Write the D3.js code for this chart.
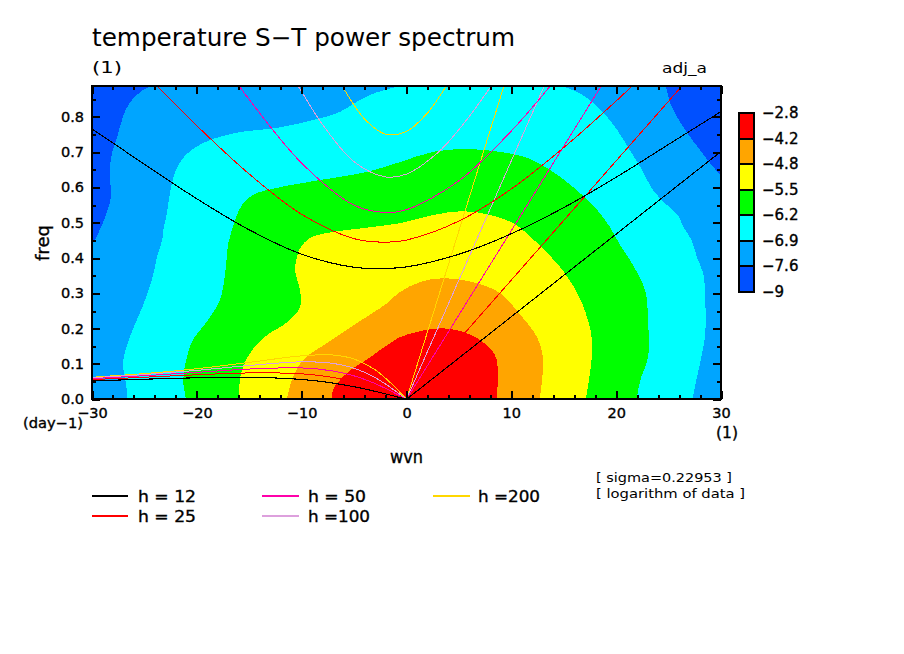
<!DOCTYPE html>
<html><head><meta charset="utf-8">
<script src="https://cdn.jsdelivr.net/npm/d3@7/dist/d3.min.js"></script>
<style>
html,body{margin:0;padding:0;background:#fff}
svg{display:block}
text{font-family:"DejaVu Sans",sans-serif;fill:#000}
.tk text,.b{stroke:#000;stroke-width:.35px}
</style></head><body><svg id="c" width="904" height="654"></svg>
<script>
const xTickLabels=[-30,-20,-10,0,10,20,30];
const xMinorTicks=[-28,-26,-24,-22,-18,-16,-14,-12,-8,-6,-4,-2,2,4,6,8,12,14,16,18,22,24,26,28];
const yTickLabels=[0,0.1,0.2,0.3,0.4,0.5,0.6,0.7,0.8];
const yMinorTicks=[0.05,0.15,0.25,0.35,0.45,0.55,0.65,0.75,0.85];
const levelLabels=["−2.8","−4.2","−4.8","−5.5","−6.2","−6.9","−7.6","−9"];
const levelColors=["#ff0000","#ffa500","#ffff00","#00ff00","#00ffff","#00a5ff","#0050ff"];

const plotDomain=[[-31,-.01],[-31,.9],[31,.9],[31,-.01]];
const bandLight=[[-31,-.01],[-31,.41],[-30,.437],[-29.4,.471],[-28.6,.528],[-28.2,.573],[-28.3,.641],[-28.1,.698],[-27.6,.743],[-27.05,.8],[-26.4,.84],[-25.1,.877],[-24,.892],[-23,.92],[24,.92],[24.67,.892],[25.15,.84],[25.8,.8],[26.77,.755],[28,.706],[29.25,.658],[30,.635],[31,.6],[31,-.01]];
const bandCyan=[[-26.57,-.01],[-26.76,.045],[-27.05,.102],[-26.4,.176],[-25.2,.261],[-24.3,.338],[-23.7,.414],[-23.3,.451],[-23.2,.479],[-22.85,.528],[-22.57,.584],[-22.1,.641],[-21.3,.684],[-19.4,.726],[-16.2,.755],[-12.35,.769],[-8.9,.791],[-6.35,.814],[-4.9,.84],[-3,.868],[-.14,.892],[2,.92],[12,.92],[14.36,.892],[16.27,.871],[17.7,.843],[19.13,.8],[20.1,.763],[21.3,.706],[22.47,.65],[23.5,.593],[24.86,.55],[25.9,.522],[26.4,.488],[27.2,.451],[27.7,.403],[28.3,.357],[28.5,.281],[28.5,.187],[28.2,.13],[27.5,.034],[27.24,-.01]];
const bandGreen=[[-20.95,-.01],[-21.3,.054],[-20.95,.119],[-20.4,.167],[-18.95,.224],[-17.8,.281],[-17.3,.357],[-17.03,.437],[-16.84,.46],[-16.36,.508],[-15.7,.55],[-14.65,.579],[-12.35,.599],[-8.25,.621],[-3.77,.644],[-.62,.672],[2.53,.701],[5.77,.709],[8.92,.701],[11.5,.684],[13.7,.65],[15.9,.601],[18.2,.536],[19.4,.488],[20.37,.437],[21.6,.38],[22.76,.309],[23.04,.224],[23.04,.119],[22.3,.054],[21.9,-.01]];
const bandYellow=[[-15.98,-.01],[-15.9,.054],[-15.6,.091],[-14.74,.139],[-13.3,.182],[-11.4,.218],[-10.16,.261],[-10.16,.309],[-10.64,.366],[-10.45,.403],[-10.16,.428],[-9.2,.457],[-7.6,.471],[-4.15,.485],[-.62,.499],[2.53,.522],[5.4,.533],[7.97,.522],[10.16,.499],[12.45,.443],[15.12,.357],[16.75,.272],[17.7,.167],[17.5,.074],[17.03,-.01]];
const bandOrange=[[-11.5,-.01],[-10.93,.054],[-9.88,.111],[-7.6,.159],[-4.72,.216],[-1.86,.272],[-.62,.304],[1.29,.332],[3.48,.343],[6.35,.332],[8.92,.301],[10.64,.247],[12.45,.176],[13.02,.119],[12.93,.054],[12.64,-.01]];
const bandRed=[[-7.01,-.01],[-7.01,.026],[-5.68,.074],[-3.48,.119],[-1.57,.159],[-.62,.176],[1.29,.193],[3.48,.201],[5.77,.187],[7.3,.162],[8.44,.125],[8.73,.074],[8.54,-.01]];
const bands=[[plotDomain,6],[bandLight,5],[bandCyan,4],[bandGreen,3],[bandYellow,2],[bandOrange,1],[bandRed,0]];

const lowWvn=[-30,-25,-20,-15,-10,-7,-5,-3,-2,-1,0];
const low12=[.052,.0569,.061,.0624,.0562,.0459,.0356,.0226,.0153,.0078,0];
const low25=[.0558,.0625,.0694,.0747,.0722,.0619,.0494,.0322,.022,.0112,0];
const low50=[.0587,.0668,.0763,.0857,.0888,.0802,.0664,.0446,.0308,.0158,0];
const low100=[.0609,.0702,.082,.0958,.1061,.1017,.088,.0614,.0431,.0223,0];
const low200=[.0625,.0729,.0866,.1045,.1231,.1254,.114,.0836,.0597,.0314,0];

const upper12=[[-30,.766],[-25,.666],[-20,.568],[-15,.48],[-10,.411],[-5,.374],[-2,.371],[0,.375],[5,.411],[10,.469],[15,.543],[20,.629],[25,.722],[30,.815]];
const upper25=[[-24,.894],[-20,.775],[-15,.638],[-10,.524],[-5,.455],[-2,.445],[0,.451],[5,.505],[10,.596],[15,.713],[20,.845],[22,.901]];
const upper50=[[-16,.889],[-15,.849],[-10,.669],[-5,.55],[-2,.529],[0,.537],[5,.619],[10,.76],[14,.898]];
const upper100=[[-11,.92],[-10,.871],[-8,.778],[-5,.673],[-2,.63],[0,.638],[3,.699],[5,.764],[8,.884],[9,.93]];
const upper200=[[-7,.939],[-6,.881],[-4,.794],[-2,.751],[0,.759],[2,.811],[4,.897],[5,.949]];

const kelvin12=[[0,0],[30,.702]];
const kelvin25=[[0,0],[27,.912]];
const kelvin50=[[0,0],[19,.908]];
const kelvin100=[[0,0],[14,.946]];
const kelvin200=[[0,0],[10,.955]];

const heights=["h = 12","h = 25","h = 50","h =100","h =200"];
const heightColors=["#000000","#ff0000","#ff00aa","#dda0dd","#ffd700"];
const lows=[low12,low25,low50,low100,low200];
const uppers=[upper12,upper25,upper50,upper100,upper200];
const kelvins=[kelvin12,kelvin25,kelvin50,kelvin100,kelvin200];

const svg=d3.select("#c");
const x=d3.scaleLinear().domain([-30,30]).range([92,721]);
const y=d3.scaleLinear().domain([0,.8875]).range([399.3,86]);
const line=d3.line().x(d=>x(d[0])).y(d=>y(d[1])).curve(d3.curveCatmullRom);

svg.append("clipPath").attr("id","p").append("rect").attr("x",92).attr("y",86).attr("width",629).attr("height",313.3);
const plot=svg.append("g").attr("clip-path","url(#p)");
plot.selectAll("path.band").data(bands).join("path").attr("class","band")
  .attr("d",d=>line(d[0])+"Z").attr("fill",d=>levelColors[d[1]]).attr("shape-rendering","crispEdges");

[4,3,2,1,0].forEach(i=>{
  const low=lowWvn.map((k,j)=>[k,lows[i][j]]);
  [low,uppers[i],kelvins[i]].forEach(s=>{
    plot.append("path").attr("d",line(s)).attr("fill","none")
      .attr("stroke",heightColors[i]).attr("stroke-width",i==0?1.1:1).attr("shape-rendering","crispEdges");
  });
});

function ticks(axisFn,scale,vals,size,fmt,tr,cls){
  const a=axisFn(scale).tickValues(vals).tickSize(size).tickSizeOuter(0);
  a.tickFormat(fmt||"").tickPadding(6);
  const g=svg.append("g").attr("class",cls||"").attr("transform",tr).call(a);
  g.select(".domain").remove();
  g.selectAll("line").attr("stroke","#000").attr("stroke-width",2).attr("shape-rendering","crispEdges");
  return g;
}
const xf=d=>(d<0?"−":"")+Math.abs(d);
const yf=d=>d.toFixed(1);
const gb=ticks(d3.axisBottom,x,xTickLabels,-8,xf,"translate(0,399.3)","tk");
gb.selectAll("text").attr("y",8).attr("font-size",14.5).attr("font-family","DejaVu Sans");
ticks(d3.axisBottom,x,xMinorTicks,-4,null,"translate(0,399.3)");
ticks(d3.axisTop,x,xTickLabels,-8,null,"translate(0,86)");
ticks(d3.axisTop,x,xMinorTicks,-4,null,"translate(0,86)");
const gl=ticks(d3.axisLeft,y,yTickLabels,-8,yf,"translate(92,0)","tk");
gl.selectAll("text").attr("x",-8).attr("dy",".3em").attr("font-size",14.5).attr("font-family","DejaVu Sans");
ticks(d3.axisLeft,y,yMinorTicks,-4,null,"translate(92,0)");
ticks(d3.axisRight,y,yTickLabels,-8,null,"translate(721,0)");
ticks(d3.axisRight,y,yMinorTicks,-4,null,"translate(721,0)");

svg.append("rect").attr("x",92).attr("y",86).attr("width",629).attr("height",313.3)
  .attr("fill","none").attr("stroke","#000").attr("stroke-width",2.4).attr("shape-rendering","crispEdges");

function txt(s,px,py,size,opt={}){
  const t=svg.append("text").attr("x",px).attr("y",py).attr("font-size",size).text(s);
  if(opt.len){t.attr("textLength",opt.len).attr("lengthAdjust","spacingAndGlyphs");}
  if(opt.anchor)t.attr("text-anchor",opt.anchor);
  if(opt.bold)t.attr("class","b");
  if(opt.rot)t.attr("transform",`rotate(${opt.rot} ${px} ${py})`);
  return t;
}
txt("temperature S−T power spectrum",92,46,24,{len:423});
txt("(1)",92,73,16,{len:30});
txt("adj_a",662,73,14,{len:45});
txt("(day−1)",23,428,14,{len:60,bold:true});
txt("(1)",716,438,15,{len:22,bold:true});
txt("wvn",390,463,17,{len:33,bold:true});
txt("freq",49,261,18,{len:36,bold:true,rot:-90});

// colour bar
const cb=d3.scalePoint().domain(levelLabels).range([113,292]);
const cbBox=levelColors.map((c,i)=>({c,a:levelLabels[i],b:levelLabels[i+1]}));
svg.selectAll("rect.cb").data(cbBox).join("rect").attr("class","cb")
  .attr("x",738.5).attr("width",15).attr("y",d=>cb(d.a)).attr("height",d=>cb(d.b)-cb(d.a))
  .attr("fill",d=>d.c).attr("stroke","#000").attr("stroke-width",2).attr("shape-rendering","crispEdges");
svg.selectAll("text.cbl").data(levelLabels).join("text").attr("class","cbl b")
  .attr("x",762).attr("y",d=>cb(d)+5).attr("font-size",15).text(d=>d);

// legend
const legendX=[92,92,262,262,433];
const legendW=[36,36,37,37,37];
const legendY=[496,516,496,516,496];
const legendTextX=[138,138,308,308,478];
heights.forEach((h,i)=>{
  svg.append("line").attr("x1",legendX[i]).attr("x2",legendX[i]+legendW[i]).attr("y1",legendY[i]).attr("y2",legendY[i])
    .attr("stroke",heightColors[i]).attr("stroke-width",1.6).attr("shape-rendering","crispEdges");
  txt(h,legendTextX[i],legendY[i]+6,16,{len:h.includes("=1")||h.includes("=2")?62:58,bold:true});
});
txt("[ sigma=0.22953 ]",596,482,13,{len:136});
txt("[ logarithm of data ]",596,498,13,{len:149});
</script></body></html>
